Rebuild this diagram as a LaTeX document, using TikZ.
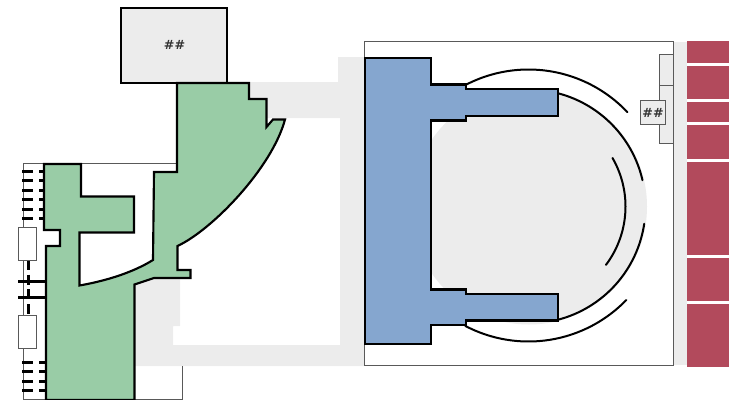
\documentclass[tikz,border=0pt]{standalone}
\usepackage{xcolor}
\usepackage{fontspec}
\newfontfamily\markerfont{DejaVu Sans}
\usetikzlibrary{calc}
\definecolor{hallgray}{HTML}{ECECEC}
\definecolor{wallgreen}{HTML}{99CCA6}
\definecolor{wallblue}{HTML}{85A6CF}
\definecolor{seatred}{HTML}{B24A5C}
\tikzset{
    outline/.style={draw=black,line width=1.6pt,line join=miter},
    frameline/.style={draw=black!65,line width=0.6pt},
    tick/.style={draw=black,line width=2pt},
    curveline/.style={draw=black,line width=1.5pt,line cap=round},
    marker/.style={font=\markerfont\fontsize{9.5}{9.5}\selectfont\bfseries,text=black!80,inner sep=0pt}
}
\begin{document}
\begin{tikzpicture}[x=0.75pt,y=-0.75pt]
\useasboundingbox (0,0) rectangle (729,400);

% gray corridors
\fill[hallgray] (249,82) -- (338,82) -- (338,57) -- (364,57) -- (364,366) -- (135,366)
    -- (135,278) -- (180,278) -- (180,326) -- (173,326) -- (173,345) -- (340,345)
    -- (340,118) -- (249,118) -- cycle;
\fill[hallgray] (673,42) rectangle (687,365);

% frames
\draw[frameline,fill=white] (364,41) rectangle (673,365.5);
\draw[frameline] (177,163) -- (23,163) -- (23,399.5) -- (182,399.5) -- (182,366);

% stage disc
\begin{scope}
    \clip (431,0) rectangle (700,400);
    \fill[hallgray] (529,206.5) circle [radius=118*0.75pt];
\end{scope}

% side boxes
\draw[frameline,fill=hallgray] (659.5,54.5) rectangle (673.5,85.5);
\draw[frameline,fill=hallgray] (659.5,85.5) rectangle (673.5,143.5);
\draw[frameline,fill=hallgray] (640.5,100.5) rectangle (665.5,124.5);
\node[marker] (markerright) at (653,113) {\#\#};
\draw[outline,fill=hallgray] (121,8) rectangle (227,83);
\node[marker] (markertop) at (174.5,45) {\#\#};

% red blocks
\foreach \ya/\yb in {41/62.7, 66/98.7, 102/122, 125/158.7, 162/254.7, 258/300.7, 304/366.7} {
    \fill[seatred] (687,\ya) rectangle (729,\yb);
}

% left ticks
\foreach \y in {171.7,180.7,190.7,199.7,209.7,218.7} {
    \draw[tick] (22,\y) -- (33,\y);
    \draw[tick] (39,\y) -- (45,\y);
}
\foreach \y in {362.3,371.3,381.3,390.7} {
    \draw[tick] (22,\y) -- (33,\y);
    \draw[tick] (39,\y) -- (46,\y);
}
\foreach \y in {281.7,297.3} {
    \draw[tick] (18,\y) -- (46,\y);
}
\draw[tick,dash pattern=on 7.5pt off 3.5pt] (28.5,260) -- (28.5,316);
\draw[frameline,fill=white] (18.5,227) rectangle (36.5,260);
\draw[frameline,fill=white] (18.5,315.5) rectangle (36.5,348.5);

% green wall
\draw[outline,fill=wallgreen] (44,164) -- (81,164) -- (81,196.5) -- (134,196.5) -- (134,232.5)
    -- (79.5,232.5) -- (79.5,285.5) .. controls (105,281) and (132,273) .. (153,260)
    -- (154,172) -- (177,172) -- (177,83) -- (249,83) -- (249,99) -- (266.5,99) -- (266.5,127)
    -- (273,119.5) -- (285,119.5) .. controls (272,168) and (212,230) .. (177.5,246)
    -- (177.5,270) -- (190.5,270) -- (190.5,278) -- (154,278) -- (134.5,284.5) -- (134.5,400)
    -- (46,400) -- (46,246) -- (60,246) -- (60,230) -- (44,230) -- cycle;

% arcs round the stage
\foreach \r/\a/\b/\cy in {
    136/-117.3/-43.3/205.5,
    136/44/117.7/205.5,
    117/-75.5/-13/206.5,
    117/8.5/75.7/206.5,
    97/-30/37/206.5} {
    \draw[curveline] plot[domain=\a:\b,samples=50,smooth] ({528.5+\r*cos(\x)},{\cy+\r*sin(\x)});
}

% blue wall
\draw[outline,fill=wallblue] (365,58) -- (431,58) -- (431,84.5) -- (466,84.5) -- (466,89) -- (558,89)
    -- (558,116) -- (466,116) -- (466,120.5) -- (431,120.5) -- (431,289.5) -- (466,289.5) -- (466,294)
    -- (558,294) -- (558,320.5) -- (466,320.5) -- (466,325) -- (431,325) -- (431,344) -- (365,344) -- cycle;
\end{tikzpicture}
\end{document}
